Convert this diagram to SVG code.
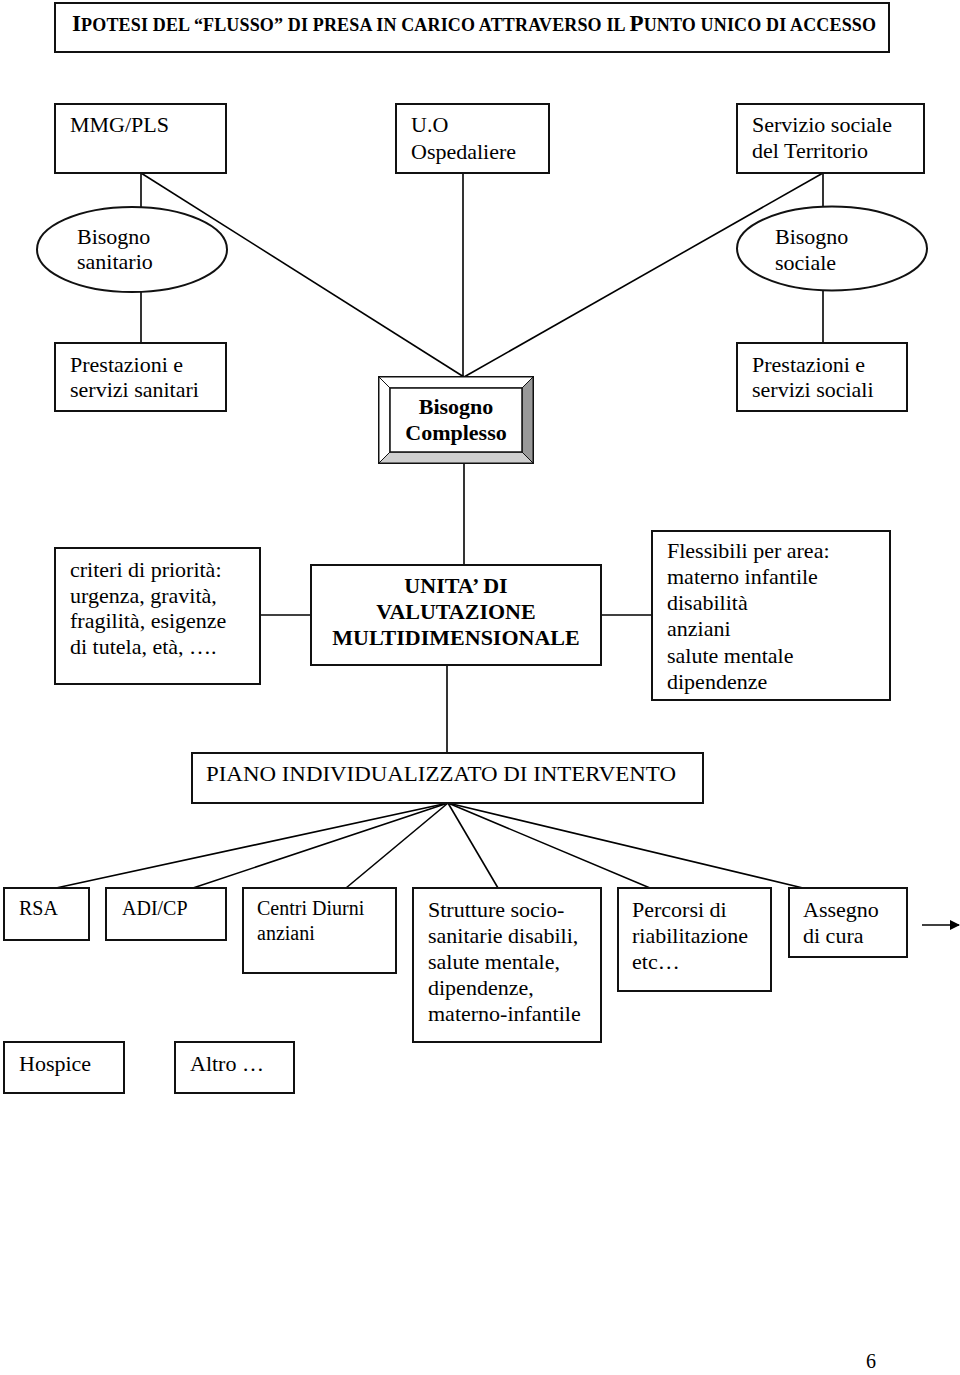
<svg xmlns="http://www.w3.org/2000/svg" width="960" height="1375" viewBox="0 0 960 1375">
<defs>
<style>
text{font-family:"Liberation Serif","Times New Roman",serif;fill:#000}
.t{font-size:22px}
.s{font-size:20px}
.b{font-weight:bold}
.box{fill:#fff;stroke:#111;stroke-width:2}
.ln{stroke:#000;stroke-width:1.6;fill:none}
</style>
<marker id="arr" markerWidth="10" markerHeight="10" refX="9" refY="5" orient="auto" markerUnits="userSpaceOnUse">
<path d="M0,0 L10,5 L0,10 Z" fill="#000"/>
</marker>
</defs>
<rect width="960" height="1375" fill="#fff"/>

<g id="connectors">
<line class="ln" x1="141" y1="173" x2="141" y2="207"/>
<line class="ln" x1="141" y1="173" x2="464" y2="377"/>
<line class="ln" x1="141" y1="291" x2="141" y2="343"/>
<line class="ln" x1="463" y1="173" x2="463" y2="377"/>
<line class="ln" x1="823" y1="173" x2="464" y2="377"/>
<line class="ln" x1="823" y1="173" x2="823" y2="207"/>
<line class="ln" x1="823" y1="290" x2="823" y2="343"/>
<line class="ln" x1="464" y1="463" x2="464" y2="565"/>
<line class="ln" x1="260" y1="615" x2="311" y2="615"/>
<line class="ln" x1="601" y1="615" x2="652" y2="615"/>
<line class="ln" x1="447" y1="665" x2="447" y2="753"/>
<line class="ln" x1="448" y1="803" x2="56" y2="888"/>
<line class="ln" x1="448" y1="803" x2="193" y2="888"/>
<line class="ln" x1="448" y1="803" x2="346" y2="888"/>
<line class="ln" x1="448" y1="803" x2="498" y2="888"/>
<line class="ln" x1="448" y1="803" x2="650" y2="888"/>
<line class="ln" x1="448" y1="803" x2="803" y2="888"/>
<line class="ln" x1="922" y1="925" x2="959" y2="925" marker-end="url(#arr)"/>
</g>

<g id="title">
<rect class="box" x="55" y="3" width="834" height="49"/>
<text class="b" x="72" y="31" textLength="804" lengthAdjust="spacing"><tspan font-size="23">I</tspan><tspan font-size="18">POTESI DEL “FLUSSO” DI PRESA IN CARICO ATTRAVERSO IL </tspan><tspan font-size="23">P</tspan><tspan font-size="18">UNTO UNICO DI ACCESSO</tspan></text>
</g>

<g id="mmg">
<rect class="box" x="55" y="104" width="171" height="69"/>
<text class="t" x="70" y="132">MMG/PLS</text>
</g>

<g id="uo">
<rect class="box" x="396" y="104" width="153" height="69"/>
<text class="t" x="411" y="132">U.O</text>
<text class="t" x="411" y="159">Ospedaliere</text>
</g>

<g id="servizio">
<rect class="box" x="737" y="104" width="187" height="69"/>
<text class="t" x="752" y="132">Servizio sociale</text>
<text class="t" x="752" y="158">del Territorio</text>
</g>

<g id="bisogno-sanitario">
<ellipse class="box" cx="132" cy="249.5" rx="95" ry="42.5"/>
<text class="t" x="77" y="244">Bisogno</text>
<text class="t" x="77" y="269">sanitario</text>
</g>

<g id="bisogno-sociale">
<ellipse class="box" cx="832" cy="248.5" rx="95" ry="42"/>
<text class="t" x="775" y="244">Bisogno</text>
<text class="t" x="775" y="270">sociale</text>
</g>

<g id="prest-sanitari">
<rect class="box" x="55" y="343" width="171" height="68"/>
<text class="t" x="70" y="372">Prestazioni e</text>
<text class="t" x="70" y="397">servizi sanitari</text>
</g>

<g id="prest-sociali">
<rect class="box" x="737" y="343" width="170" height="68"/>
<text class="t" x="752" y="372">Prestazioni e</text>
<text class="t" x="752" y="397">servizi sociali</text>
</g>

<g id="bisogno-complesso">
<rect x="379" y="377" width="154" height="86" fill="#fff" stroke="#111" stroke-width="2"/>
<polygon points="533,377 533,463 522,452 522,388" fill="#999" stroke="#111" stroke-width="1"/>
<polygon points="379,463 533,463 522,452 390,452" fill="#cfcfcf" stroke="#111" stroke-width="1"/>
<polygon points="379,377 533,377 522,388 390,388" fill="#fff" stroke="#111" stroke-width="1"/>
<polygon points="379,377 390,388 390,452 379,463" fill="#fff" stroke="#111" stroke-width="1"/>
<rect x="390" y="388" width="132" height="64" fill="#fff" stroke="#111" stroke-width="1.5"/>
<text class="t b" x="456" y="414" text-anchor="middle">Bisogno</text>
<text class="t b" x="456" y="440" text-anchor="middle">Complesso</text>
</g>

<g id="criteri">
<rect class="box" x="55" y="548" width="205" height="136"/>
<text class="t" x="70" y="577">criteri di priorità:</text>
<text class="t" x="70" y="603">urgenza, gravità,</text>
<text class="t" x="70" y="628">fragilità, esigenze</text>
<text class="t" x="70" y="654">di tutela, età, ….</text>
</g>

<g id="unita">
<rect class="box" x="311" y="565" width="290" height="100"/>
<text class="t b" x="456" y="593" text-anchor="middle">UNITA’ DI</text>
<text class="t b" x="456" y="619" text-anchor="middle">VALUTAZIONE</text>
<text class="t b" x="456" y="645" text-anchor="middle">MULTIDIMENSIONALE</text>
</g>

<g id="flessibili">
<rect class="box" x="652" y="531" width="238" height="169"/>
<text class="t" x="667" y="558">Flessibili per area:</text>
<text class="t" x="667" y="584">materno infantile</text>
<text class="t" x="667" y="610">disabilità</text>
<text class="t" x="667" y="636">anziani</text>
<text class="t" x="667" y="663">salute mentale</text>
<text class="t" x="667" y="689">dipendenze</text>
</g>

<g id="piano">
<rect class="box" x="192" y="753" width="511" height="50"/>
<text class="t" x="206" y="781" textLength="470" lengthAdjust="spacingAndGlyphs">PIANO INDIVIDUALIZZATO DI INTERVENTO</text>
</g>

<g id="rsa">
<rect class="box" x="4" y="888" width="85" height="52"/>
<text class="s" x="19" y="915">RSA</text>
</g>

<g id="adi">
<rect class="box" x="106" y="888" width="120" height="52"/>
<text class="s" x="122" y="915">ADI/CP</text>
</g>

<g id="centri">
<rect class="box" x="243" y="888" width="153" height="85"/>
<text class="s" x="257" y="915">Centri Diurni</text>
<text class="s" x="257" y="940">anziani</text>
</g>

<g id="strutture">
<rect class="box" x="413" y="888" width="188" height="154"/>
<text class="t" x="428" y="917">Strutture socio-</text>
<text class="t" x="428" y="943">sanitarie disabili,</text>
<text class="t" x="428" y="969">salute mentale,</text>
<text class="t" x="428" y="995">dipendenze,</text>
<text class="t" x="428" y="1021">materno-infantile</text>
</g>

<g id="percorsi">
<rect class="box" x="618" y="888" width="153" height="103"/>
<text class="t" x="632" y="917">Percorsi di</text>
<text class="t" x="632" y="943">riabilitazione</text>
<text class="t" x="632" y="969">etc…</text>
</g>

<g id="assegno">
<rect class="box" x="789" y="888" width="118" height="69"/>
<text class="t" x="803" y="917">Assegno</text>
<text class="t" x="803" y="943">di cura</text>
</g>

<g id="hospice">
<rect class="box" x="4" y="1042" width="120" height="51"/>
<text class="t" x="19" y="1071">Hospice</text>
</g>

<g id="altro">
<rect class="box" x="175" y="1042" width="119" height="51"/>
<text class="t" x="190" y="1071">Altro …</text>
</g>

<text x="866" y="1368" font-size="20">6</text>
</svg>
